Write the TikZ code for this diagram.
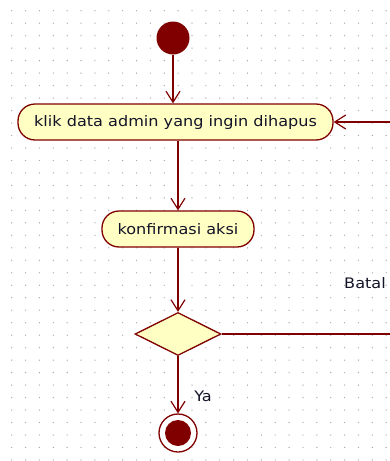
\documentclass[tikz,border=0pt]{standalone}
\usepackage{fontspec}
\setmainfont{DejaVu Sans}
\usetikzlibrary{arrows.meta,shapes.geometric}
\definecolor{umlred}{RGB}{128,0,0}
\definecolor{umlfill}{RGB}{255,255,196}
\definecolor{umltext}{RGB}{20,20,40}
\definecolor{griddot}{RGB}{170,170,170}
\newcommand{\lebar}[1]{\scalebox{1.11}[1]{#1}}
\begin{document}
\begin{tikzpicture}[x=1pt,y=-1pt,
    flow/.style={draw=umlred, line width=1.6pt, -{Straight Barb[length=11pt,width=14pt,line width=1.2pt]}},
    act/.style={rectangle, rounded corners=17pt, draw=umlred, line width=1.3pt, fill=umlfill,
        minimum height=36pt, inner sep=0pt, text=umltext, font=\fontsize{14.5}{16}\selectfont},
    label/.style={text=umltext, font=\fontsize{14.5}{16}\selectfont}]
    \useasboundingbox (0,0) rectangle (390,461);
    \clip (0,0) rectangle (390,461);
    \fill[white] (0,0) rectangle (390,461);

    % dotted grid
    \foreach \i in {0,...,27}
        \foreach \j in {0,...,36}
            \fill[griddot] (11.7+13.87*\i,10.7+12.48*\j) circle (0.7pt);

    \node[circle, fill=umlred, minimum size=33pt, inner sep=0pt] (start) at (173,38) {};
    \node[act, minimum width=315pt] (klik) at (175.5,122) {\lebar{klik data admin yang ingin dihapus}};
    \node[act, minimum width=152pt] (konf) at (178,229) {\lebar{konfirmasi aksi}};
    \node[diamond, draw=umlred, line width=1.3pt, fill=umlfill, aspect=2, inner sep=0pt,
        minimum width=86pt, minimum height=43pt] (pilih) at (178,334) {};
    \node[circle, draw=umlred, line width=1.3pt, fill=white, minimum size=38pt, inner sep=0pt] (akhir) at (178,433) {};
    \fill[umlred] (akhir) circle (13pt);

    \coordinate (pojok1) at (398,334);
    \coordinate (pojok2) at (398,122);

    \draw[flow] (start) -- (start |- klik.north);
    \draw[flow] (klik.south -| konf.north) -- (konf.north);
    \draw[flow] (konf) -- (pilih);
    \draw[flow] (pilih) -- (akhir);
    \draw[flow] (pilih.east) -- (pojok1) -- (pojok2) -- (klik.east);

    \node[label] (batal) at (365,283) {\lebar{Batal}};
    \node[label] (ya) at (203,396) {\lebar{Ya}};
\end{tikzpicture}
\end{document}
